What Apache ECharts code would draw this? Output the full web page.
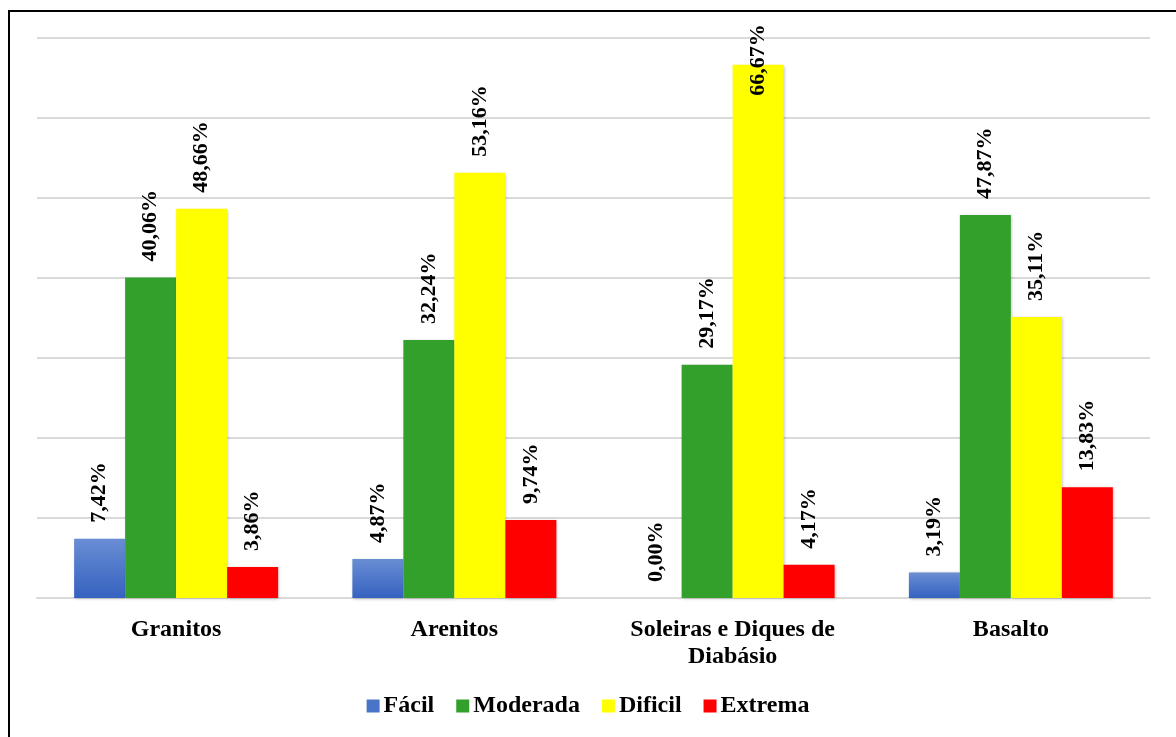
<!DOCTYPE html>
<html><head><meta charset="utf-8">
<script src="https://cdn.jsdelivr.net/npm/echarts@6/dist/echarts.min.js"></script>
<style>html,body{margin:0;padding:0;background:#fff}#c{width:1176px;height:737px}</style>
</head><body><div id="c"></div>
<script>
const categories = ['Granitos', 'Arenitos', 'Soleiras e Diques de\nDiabásio', 'Basalto'];
const seriesNames = ['Fácil', 'Moderada', 'Dificil', 'Extrema'];
const facil = [7.42, 4.87, 0.00, 3.19];
const moderada = [40.06, 32.24, 29.17, 47.87];
const dificil = [48.66, 53.16, 66.67, 35.11];
const extrema = [3.86, 9.74, 4.17, 13.83];
const yTicks = [0, 10, 20, 30, 40, 50, 60, 70];

const font = '"Liberation Serif", "Times New Roman", serif';
const blueGrad = new echarts.graphic.LinearGradient(0, 0, 0, 1, [
  {offset: 0, color: '#6a8ed4'}, {offset: 1, color: '#3562c0'}]);
const colors = [blueGrad, '#33a02c', '#ffff00', '#ff0000'];
const legendColors = ['#4a74c8', '#33a02c', '#ffff00', '#ff0000'];
const datasets = [facil, moderada, dificil, extrema];
const yMax = yTicks[yTicks.length - 1];

const chart = echarts.init(document.getElementById('c'));
chart.setOption({
  animation: false,
  backgroundColor: '#fff',
  graphic: [{type: 'rect', shape: {x: 9, y: 11, width: 1200, height: 800},
    style: {fill: 'none', stroke: '#000', lineWidth: 2}, z: 100}],
  grid: {left: 37, right: 26, top: 38, bottom: 139, containLabel: false},
  legend: {
    bottom: 14, left: 'center', itemWidth: 13, itemHeight: 13, itemGap: 22,
    icon: 'rect',
    textStyle: {fontFamily: font, fontWeight: 'bold', fontSize: 24, color: '#000', padding: [0, 0, 0, -1]},
    data: seriesNames.map((n, i) => ({name: n, itemStyle: {color: legendColors[i]}}))
  },
  xAxis: {
    type: 'category', data: categories,
    axisLine: {show: true, lineStyle: {color: '#d9d9d9', width: 2}},
    axisTick: {show: false},
    axisLabel: {fontFamily: font, fontWeight: 'bold', fontSize: 24, color: '#000', margin: 18, lineHeight: 27, interval: 0}
  },
  yAxis: {
    type: 'value', min: 0, max: yMax, interval: 10,
    axisLine: {show: false}, axisTick: {show: false}, axisLabel: {show: false},
    splitLine: {lineStyle: {color: '#d9d9d9', width: 2}}
  },
  series: datasets.map((d, i) => ({
    name: seriesNames[i], type: 'bar', barWidth: 51, barGap: '0%',
    data: d.map(v => v > 60 ? {value: v, label: {position: 'insideTop', distance: 31}} : v),
    itemStyle: {color: colors[i], shadowColor: 'rgba(0,0,0,0.25)', shadowBlur: 3, shadowOffsetX: 1, shadowOffsetY: 1},
    label: {
      show: true, position: 'top', rotate: 90, align: 'left', verticalAlign: 'middle', distance: 16,
      fontFamily: font, fontWeight: 'bold', fontSize: 22, color: '#000',
      formatter: p => p.value.toFixed(2).replace('.', ',') + '%'
    }
  }))
});
</script></body></html>
